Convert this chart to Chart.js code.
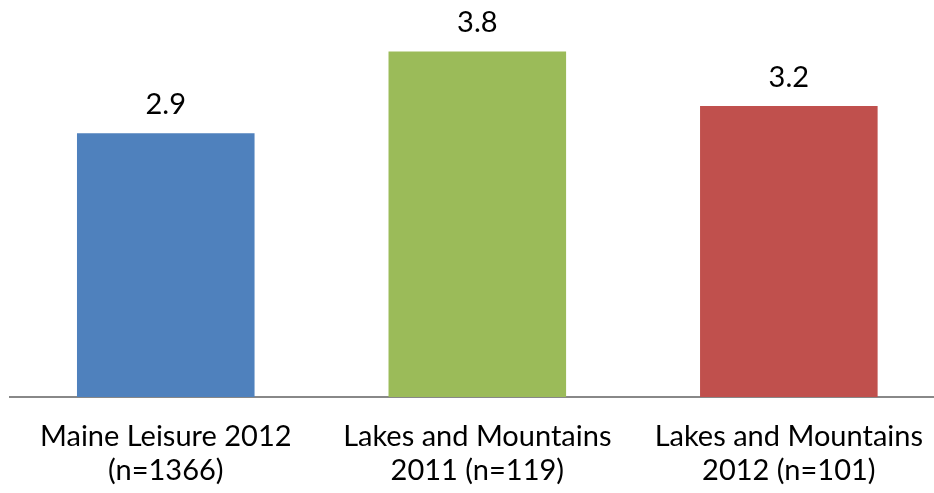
<!DOCTYPE html>
<html>
<head>
<meta charset="utf-8">
<script src="https://cdn.jsdelivr.net/npm/chart.js@4"></script>
<style>
    html, body { margin: 0; padding: 0; background: #fff; overflow: hidden; }
    #wrap { width: 946px; height: 493px; }
</style>
</head>
<body>
<div id="wrap"><canvas id="surveyChart" width="946" height="493"></canvas></div>
<script>
// categories and values
const categoryLabels = [
    ["Maine Leisure 2012", "(n=1366)"],
    ["Lakes and Mountains", "2011 (n=119)"],
    ["Lakes and Mountains", "2012 (n=101)"]
];
const averageValues = [2.9, 3.8, 3.2];
const barColors = ["#4F81BD", "#9BBB59", "#C0504D"];

const FONT = "Lato, 'Open Sans', sans-serif";

// writes the value above each bar
const valueLabelPlugin = {
    id: "valueLabels",
    afterDatasetsDraw(chart) {
        const ctx = chart.ctx;
        const meta = chart.getDatasetMeta(0);
        ctx.save();
        ctx.font = "29px " + FONT;
        ctx.fillStyle = "#000";
        ctx.textAlign = "center";
        ctx.textBaseline = "alphabetic";
        meta.data.forEach(function (bar, i) {
            ctx.fillText(averageValues[i].toFixed(1), bar.x, bar.y - 19);
        });
        ctx.restore();
    }
};

const ctx = document.getElementById("surveyChart").getContext("2d");
const chartObject = new Chart(ctx, {
    type: "bar",
    data: {
        labels: categoryLabels,
        datasets: [{
            data: averageValues,
            backgroundColor: barColors,
            borderWidth: 0,
            barPercentage: 0.57,
            categoryPercentage: 1.0
        }]
    },
    options: {
        responsive: false,
        animation: false,
        layout: { padding: { left: 10, top: 15, right: 0, bottom: 0 } },
        plugins: {
            legend: { display: false },
            tooltip: { enabled: false }
        },
        scales: {
            x: {
                grid: { display: false, drawTicks: false },
                border: { display: true, color: "#888888", width: 2 },
                ticks: {
                    color: "#000",
                    padding: 23,
                    maxRotation: 0,
                    autoSkip: false,
                    font: { family: FONT, size: 29, lineHeight: 1.16 }
                },
                afterFit(scale) {
                    scale.height = 96;
                }
            },
            y: {
                display: false,
                min: 0,
                max: 4.2
            }
        }
    },
    plugins: [valueLabelPlugin]
});
</script>
</body>
</html>
